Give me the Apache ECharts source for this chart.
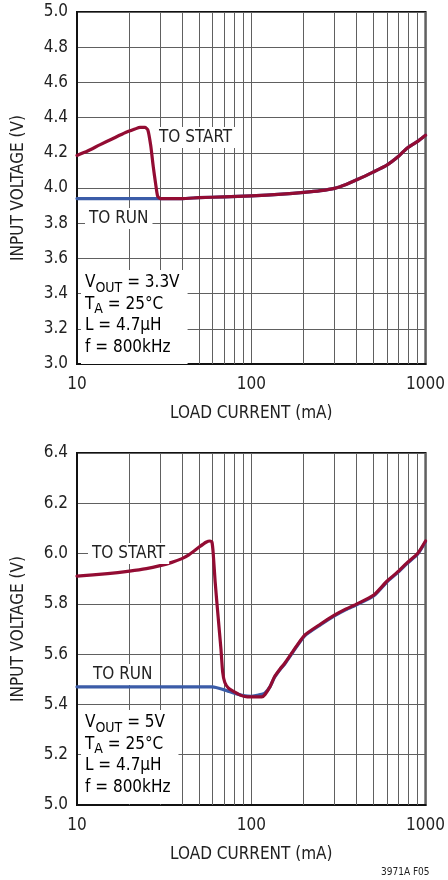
<!DOCTYPE html>
<html>
<head>
<meta charset="utf-8">
<script src="https://cdn.jsdelivr.net/npm/echarts@6/dist/echarts.min.js"></script>
<style>
html,body{margin:0;padding:0;background:#fff;}
#c{width:448px;height:880px;}
</style>
</head>
<body>
<div id="c"></div>
<script>
// ---- Top chart (VOUT = 3.3V) ----
var xStartTop = [10, 11.5, 13.5, 16, 19, 21.5, 23, 24.5, 25.5, 26.5, 27.4, 28.3, 29, 30, 40, 50, 70, 100, 150, 200, 250, 300, 350, 400, 500, 600, 700, 780, 900, 1000];
var vStartTop = [4.185, 4.21, 4.245, 4.28, 4.315, 4.335, 4.345, 4.345, 4.33, 4.24, 4.12, 4.02, 3.955, 3.94, 3.94, 3.945, 3.95, 3.955, 3.965, 3.975, 3.985, 3.998, 4.02, 4.045, 4.09, 4.13, 4.18, 4.225, 4.265, 4.30];
var xRunTop = [10, 29.5, 30, 40, 50, 70, 100, 150, 200, 250, 300, 350, 400, 500, 600, 700, 780, 900, 1000];
var vRunTop = [3.94, 3.94, 3.94, 3.94, 3.945, 3.95, 3.955, 3.965, 3.975, 3.985, 3.998, 4.02, 4.045, 4.09, 4.13, 4.18, 4.225, 4.265, 4.30];

// ---- Bottom chart (VOUT = 5V) ----
var xStartBot = [10, 15, 20, 25, 30, 35, 40, 44, 50, 55, 58, 59.5, 60.5, 62, 64.5, 67, 68.5, 70.5, 74, 80, 88, 95, 100, 108, 115, 120, 128, 136, 146, 156, 173, 202, 250, 300, 350, 405, 505, 600, 700, 780, 900, 1000];
var vStartBot = [5.91, 5.92, 5.93, 5.94, 5.952, 5.965, 5.98, 5.996, 6.025, 6.045, 6.05, 6.045, 6.0, 5.89, 5.75, 5.62, 5.53, 5.487, 5.465, 5.45, 5.435, 5.43, 5.43, 5.43, 5.43, 5.44, 5.47, 5.51, 5.54, 5.565, 5.61, 5.675, 5.72, 5.755, 5.78, 5.80, 5.835, 5.89, 5.93, 5.962, 6.0, 6.05];
var xRunBot = [10, 30, 60, 70, 80, 90, 100, 108, 115, 120, 128, 136, 146, 156, 173, 202, 250, 300, 350, 405, 505, 600, 700, 780, 900, 1000];
var vRunBot = [5.47, 5.47, 5.47, 5.458, 5.445, 5.435, 5.432, 5.436, 5.44, 5.446, 5.47, 5.508, 5.538, 5.562, 5.607, 5.672, 5.717, 5.752, 5.777, 5.797, 5.832, 5.887, 5.927, 5.959, 5.997, 6.047];

// ---- Axis ticks ----
var minorX = [20, 30, 40, 50, 60, 70, 80, 90, 200, 300, 400, 500, 600, 700, 800, 900];
var yTop = {min: 3.0, max: 5.0, interval: 0.2};
var yBot = {min: 5.0, max: 6.4, interval: 0.2};

var FONT = "'Liberation Sans Narrow', 'DejaVu Sans Condensed', 'Roboto Condensed', sans-serif";
var RED = '#930c33';
var BLUE = '#3b5ca8';
var GRID = '#606060';
var TXT = '#222';

function pairs(xs, vs) { return xs.map(function (x, i) { return [x, vs[i]]; }); }

var grids = [
  {left: 77, top: 12, width: 352, height: 352, show: true, borderColor: '#111', borderWidth: 2, backgroundColor: 'transparent'},
  {left: 77, top: 453, width: 352, height: 352, show: true, borderColor: '#111', borderWidth: 2, backgroundColor: 'transparent'}
];

function xAxisFor(i) {
  return {
    type: 'log', logBase: 10, min: 10, max: 1000, gridIndex: i,
    name: 'LOAD CURRENT (mA)', nameLocation: 'middle', nameGap: 41,
    nameTextStyle: {fontFamily: FONT, fontSize: 17, color: TXT},
    axisLine: {show: true, lineStyle: {color: '#111', width: 2}},
    axisTick: {show: false},
    axisLabel: {fontFamily: FONT, fontSize: 17, color: TXT, margin: 12, formatter: function (v) { return String(Math.round(v)); }},
    splitLine: {show: true, lineStyle: {color: GRID, width: 1}}
  };
}
function yAxisFor(i, cfg) {
  return {
    type: 'value', gridIndex: i, min: cfg.min, max: cfg.max, interval: cfg.interval,
    name: 'INPUT VOLTAGE (V)', nameLocation: 'middle', nameGap: 50,
    nameTextStyle: {fontFamily: FONT, fontSize: 17, color: TXT},
    axisLine: {show: true, lineStyle: {color: '#111', width: 2}},
    axisTick: {show: false},
    axisLabel: {fontFamily: FONT, fontSize: 17, color: TXT, margin: 9, formatter: function (v) { return v.toFixed(1); }},
    splitLine: {show: true, lineStyle: {color: GRID, width: 1}}
  };
}

function gridLinesSeries(i) {
  return {
    type: 'line', xAxisIndex: i, yAxisIndex: i, data: [], silent: true, z: 1,
    markLine: {
      silent: true, symbol: ['none', 'none'], label: {show: false},
      lineStyle: {color: GRID, width: 1, type: 'solid'},
      data: minorX.map(function (x) { return {xAxis: x}; })
    }
  };
}

function curve(i, xs, vs, color, z) {
  return {
    type: 'line', xAxisIndex: i, yAxisIndex: i, data: pairs(xs, vs),
    showSymbol: false, smooth: 0.2, z: z,
    lineStyle: {color: color, width: 3.2, join: 'round', cap: 'round'}
  };
}

function boxText(x, y, text) {
  return {
    type: 'text', z: 100, left: x, top: y,
    style: {
      text: text, font: '17px ' + FONT, fill: TXT,
      backgroundColor: '#fff', padding: [2, 4, 2, 4]
    }
  };
}
var condRich = {
  n: {fontFamily: FONT, fontSize: 17, color: TXT, lineHeight: 21.5},
  s: {fontFamily: FONT, fontSize: 14, color: TXT, lineHeight: 21.5, padding: [11, 0, 0, 0]}
};

var option = {
  backgroundColor: '#fff',
  animation: false,
  grid: grids,
  xAxis: [xAxisFor(0), xAxisFor(1)],
  yAxis: [yAxisFor(0, yTop), yAxisFor(1, yBot)],
  series: [
    gridLinesSeries(0), gridLinesSeries(1),
    curve(0, xRunTop, vRunTop, BLUE, 5),
    curve(0, xStartTop, vStartTop, RED, 6),
    curve(1, xRunBot, vRunBot, BLUE, 5),
    curve(1, xStartBot, vStartBot, RED, 6)
  ],
  graphic: [
    boxText(155, 127, 'TO START'),
    boxText(85, 208, 'TO RUN'),
    {
      type: 'text', z: 100, left: 81, top: 270,
      style: {
        text: '{n|V}{s|OUT}{n| = 3.3V}\n{n|T}{s|A}{n| = 25°C}\n{n|L = 4.7µH}\n{n|f = 800kHz}',
        rich: condRich, backgroundColor: '#fff', padding: [2, 8, 6, 4]
      }
    },
    boxText(88, 543, 'TO START'),
    boxText(89, 664, 'TO RUN'),
    {
      type: 'text', z: 100, left: 81, top: 710,
      style: {
        text: '{n|V}{s|OUT}{n| = 5V}\n{n|T}{s|A}{n| = 25°C}\n{n|L = 4.7µH}\n{n|f = 800kHz}',
        rich: condRich, backgroundColor: '#fff', padding: [2, 8, 6, 4]
      }
    },
    {
      type: 'text', z: 100, left: 381, top: 867,
      style: {text: '3971A F05', font: '10px ' + FONT, fill: TXT}
    }
  ]
};

var chart = echarts.init(document.getElementById('c'), null, {renderer: 'canvas'});
chart.setOption(option);
</script>
</body>
</html>
